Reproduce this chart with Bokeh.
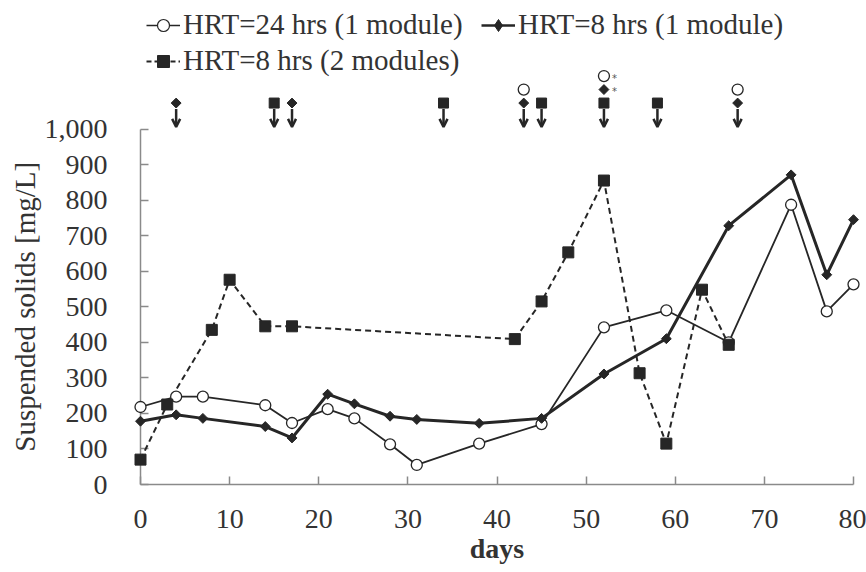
import numpy as np
from bokeh.plotting import figure
from bokeh.models import (Range1d, FixedTicker, NumeralTickFormatter, Legend, LegendItem,
                          Arrow, OpenHead, ColumnDataSource)
from bokeh.core.properties import value
from bokeh.embed import file_html
from bokeh.resources import INLINE

# ---- data ----
days_24h = [0, 4, 7, 14, 17, 21, 24, 28, 31, 38, 45, 52, 59, 66, 73, 77, 80]
ss_24h = [218, 247, 247, 223, 173, 212, 186, 113, 55, 115, 170, 442, 490, 400, 787, 487, 563]

days_8h1 = [0, 4, 7, 14, 17, 21, 24, 28, 31, 38, 45, 52, 59, 66, 73, 77, 80]
ss_8h1 = [178, 196, 186, 163, 131, 254, 227, 192, 183, 172, 186, 311, 410, 728, 871, 590, 745]

days_8h2 = [0, 3, 8, 10, 14, 17, 42, 45, 48, 52, 56, 59, 63, 66]
ss_8h2 = [70, 225, 435, 576, 445, 445, 409, 515, 653, 855, 313, 115, 548, 393]

# event markers (arrows above the chart)
ev_days_8h2 = [15, 34, 45, 52, 58]
ev_days_8h1 = [4, 17, 43, 52, 67]
ev_days_24h = [43, 52, 67]
ev_starred_8h1 = [52]
ev_starred_24h = [52]

x_ticks = [0, 10, 20, 30, 40, 50, 60, 70, 80]
y_ticks = [0, 100, 200, 300, 400, 500, 600, 700, 800, 900, 1000]

labels = ["HRT=24 hrs (1 module)", "HRT=8 hrs (1 module)", "HRT=8 hrs (2 modules)"]
y_title = "Suspended solids [mg/L]"
x_title = "days"

DARK = "#262626"
AXIS = "#8a8a8a"
TXT = "#333333"
FONT = "Liberation Serif"

X0, X1 = 0, 80
Y0, Y1 = 0, 1000

p = figure(width=866, height=564, output_backend="svg", toolbar_location=None,
           x_range=Range1d(X0, X1), y_range=Range1d(Y0, 1361.5),
           min_border_top=0, min_border_left=140, min_border_right=13, min_border_bottom=80)
p.outline_line_color = None
p.xgrid.visible = False
p.ygrid.visible = False
p.background_fill_color = "white"

# lines
l24 = p.line(days_24h, ss_24h, line_color=DARK, line_width=1.8, level="overlay")
l81 = p.line(days_8h1, ss_8h1, line_color=DARK, line_width=3, level="overlay")
l82 = p.line(days_8h2, ss_8h2, line_color=DARK, line_width=2, line_dash="6 4", level="overlay")

m24 = p.scatter(days_24h, ss_24h, marker="circle", size=11, fill_color="white",
                line_color=DARK, line_width=1.3, level="overlay")
m81 = p.scatter(days_8h1, ss_8h1, marker="square", angle=np.pi / 4, size=7,
                fill_color=DARK, line_color=DARK, line_width=1, level="overlay")
m82 = p.scatter(days_8h2, ss_8h2, marker="square", size=11, fill_color=DARK,
                line_color=DARK, level="overlay")

# legend-only renderers (kept outside the visible ranges)
def off_src():
    return ColumnDataSource(dict(x=[-100, -99], y=[-100, -100]))

g24l = p.line(x="x", y="y", source=off_src(), line_color=DARK, line_width=1.5)
g24m = p.scatter(x="x", y="y", source=off_src(), marker="circle", size=9,
                 fill_color="white", line_color=DARK, line_width=1.2)
g81l = p.line(x="x", y="y", source=off_src(), line_color=DARK, line_width=2.5)
g81m = p.scatter(x="x", y="y", source=off_src(), marker="diamond", size=11,
                 fill_color=DARK, line_color=DARK)
g82l = p.line(x="x", y="y", source=off_src(), line_color=DARK, line_width=2,
              line_dash="5 3")
g82m = p.scatter(x="x", y="y", source=off_src(), marker="square", size=9,
                 fill_color=DARK, line_color=DARK)

# events above the chart
series_events = [("sq", ev_days_8h2), ("dia", ev_days_8h1), ("circ", ev_days_24h)]
base_y, step_y = 1073, 38
stack = {}
pos = {"sq": ([], []), "dia": ([], []), "circ": ([], [])}
for name, dlist in series_events:
    for d in dlist:
        k = stack.get(d, 0)
        pos[name][0].append(d)
        pos[name][1].append(base_y + k * step_y)
        stack[d] = k + 1

p.scatter(pos["sq"][0], pos["sq"][1], marker="square", size=10, fill_color=DARK,
          line_color=DARK, level="overlay")
p.scatter(pos["dia"][0], pos["dia"][1], marker="square", angle=np.pi / 4, size=7,
          fill_color=DARK, line_color=DARK, level="overlay")
p.scatter(pos["circ"][0], pos["circ"][1], marker="circle", size=11, fill_color="white",
          line_color=DARK, line_width=1.3, level="overlay")

star_x, star_y = [], []
for name, starred in (("dia", ev_starred_8h1), ("circ", ev_starred_24h)):
    for d in starred:
        i = pos[name][0].index(d)
        star_x.append(d)
        star_y.append(pos[name][1][i])
p.text(star_x, star_y, text=["*"] * len(star_x), text_font=value("DejaVu Sans"),
       text_font_size="10px", text_color="#555555", x_offset=8, y_offset=2,
       text_baseline="middle", text_align="left", level="overlay")

arrow_days = sorted(stack.keys())
asrc = ColumnDataSource(dict(x0=arrow_days, y0=[1056] * len(arrow_days),
                             x1=arrow_days, y1=[1006] * len(arrow_days)))
p.add_layout(Arrow(end=OpenHead(size=8, line_width=2.5, line_color=DARK),
                   x_start="x0", y_start="y0", x_end="x1", y_end="y1", source=asrc,
                   line_width=2.5, line_color=DARK))

# axes
for ax in (p.xaxis[0], p.yaxis[0]):
    ax.axis_line_color = AXIS
    ax.axis_line_width = 1.5
    ax.major_tick_line_color = AXIS
    ax.major_tick_line_width = 1.5
    ax.major_tick_in = 8
    ax.major_tick_out = 0
    ax.minor_tick_line_color = None
    ax.major_label_text_font = FONT
    ax.major_label_text_font_size = "28px"
    ax.major_label_text_color = TXT

p.xaxis.ticker = FixedTicker(ticks=x_ticks)
p.yaxis.ticker = FixedTicker(ticks=y_ticks)
p.yaxis.formatter = NumeralTickFormatter(format="0,0")
p.yaxis.bounds = (Y0, Y1)
p.xaxis.bounds = (X0, X1)
p.yaxis.major_label_standoff = 33
p.xaxis.major_label_standoff = 25

# axis titles (y title centred on the 0-1000 axis span)
p.text([X0], [(Y0 + Y1) / 2], text=[y_title], angle=np.pi / 2, x_offset=-116,
       text_align="center", text_baseline="middle", text_font=value(FONT),
       text_font_size="29px", text_color=TXT, level="overlay")
p.text([(X0 + X1) / 2], [Y0], text=[x_title], y_offset=64,
       text_align="center", text_baseline="middle", text_font=value(FONT),
       text_font_style="bold", text_font_size="28px", text_color=TXT, level="overlay")

legend = Legend(items=[LegendItem(label=labels[0], renderers=[g24l, g24m]),
                       LegendItem(label=labels[2], renderers=[g82l, g82m]),
                       LegendItem(label=labels[1], renderers=[g81l, g81m])],
                ncols=2, location=(6, 407), margin=0, padding=0, spacing=3,
                glyph_width=34, glyph_height=30, label_height=30, label_standoff=3,
                label_width=295,
                label_text_font=FONT, label_text_font_size="29px", label_text_color=TXT,
                background_fill_alpha=0, border_line_alpha=0)
p.add_layout(legend)

open("out.html", "w").write(file_html(p, INLINE))
